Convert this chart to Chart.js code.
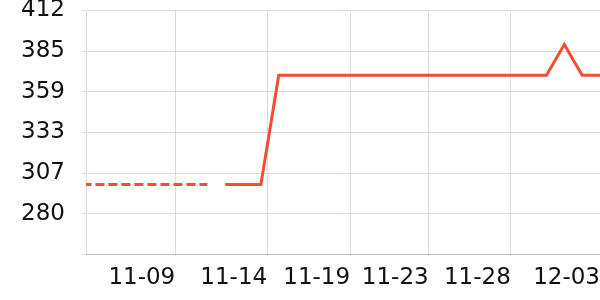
<!DOCTYPE html>
<html>
<head>
<meta charset="utf-8">
<script src="https://cdn.jsdelivr.net/npm/chart.js@4.4.1/dist/chart.umd.min.js"></script>
<style>
  html, body { margin: 0; padding: 0; background: #fff; }
  canvas { display: block; }
</style>
</head>
<body>
<canvas id="grafica" width="600" height="300"></canvas>
<script>
// dias del eje x (indice 0 = 11-04)
var dias = ["11-04","11-05","11-06","11-07","11-08","11-09","11-10","11-11","11-12","11-13",
            "11-14","11-15","11-16","11-17","11-18","11-19","11-20","11-21","11-22","11-23",
            "11-24","11-25","11-26","11-27","11-28","11-29","11-30","12-01","12-02","12-03"];

// tramo punteado (estimado) y tramo real
var estimado = [299, 299, 299, 299, 299, 299, 299, 299];
var real = [null, null, null, null, null, null, null, null,
            299, 299, 299, 370, 370, 370, 370, 370, 370, 370, 370, 370,
            370, 370, 370, 370, 370, 370, 370, 390, 370, 370];

// etiquetas de los ejes
var xTickPos = [5.2, 10.35, 15, 19.4, 24, 29];
var xTickLabels = ["11-09", "11-14", "11-19", "11-23", "11-28", "12-03"];
var yTickVals = [253.6, 280, 306.4, 332.8, 359.2, 385.6, 412];
var yTickLabels = ["", "280", "307", "333", "359", "385", "412"];

var color = "#f24e32";

function puntos(arr) {
  return arr.map(function (v, i) { return { x: i, y: v }; });
}

var ctx = document.getElementById("grafica").getContext("2d");
var grafica = new Chart(ctx, {
  type: "line",
  data: {
    datasets: [{
      data: puntos(estimado),
      borderColor: color,
      borderWidth: 3,
      borderDash: [9, 4],
      pointRadius: 0,
      tension: 0
    }, {
      data: puntos(real),
      borderColor: color,
      borderWidth: 3,
      pointRadius: 0,
      tension: 0
    }]
  },
  options: {
    responsive: false,
    animation: false,
    layout: { padding: 0 },
    plugins: { legend: { display: false }, tooltip: { enabled: false } },
    scales: {
      x: {
        type: "linear",
        min: 0.2,
        max: 29,
        afterBuildTicks: function (scale) {
          scale.ticks = xTickPos.map(function (v) { return { value: v }; });
        },
        afterFit: function (scale) {
          scale.paddingLeft = 0;
          scale.paddingRight = 0;
        },
        ticks: {
          align: "end",
          autoSkip: false,
          maxRotation: 0,
          padding: 8,
          color: "#111",
          font: { family: "DejaVu Sans", size: 23 },
          callback: function (v, i) { return xTickLabels[i]; }
        },
        grid: { color: "#dcdcdc", tickLength: 2 },
        border: { color: "#c2c2c2" }
      },
      y: {
        min: 253.6,
        max: 412,
        afterBuildTicks: function (scale) {
          scale.ticks = yTickVals.map(function (v) { return { value: v }; });
        },
        afterFit: function (scale) {
          scale.width = 86;
          scale.paddingTop = 10.5;
          scale.paddingBottom = 0;
        },
        ticks: {
          padding: 17,
          color: "#111",
          font: { family: "DejaVu Sans", size: 23 },
          callback: function (v, i) { return yTickLabels[i]; }
        },
        grid: { color: "#dcdcdc", tickLength: 4 },
        border: { color: "#dcdcdc" }
      }
    }
  }
});
</script>
</body>
</html>
